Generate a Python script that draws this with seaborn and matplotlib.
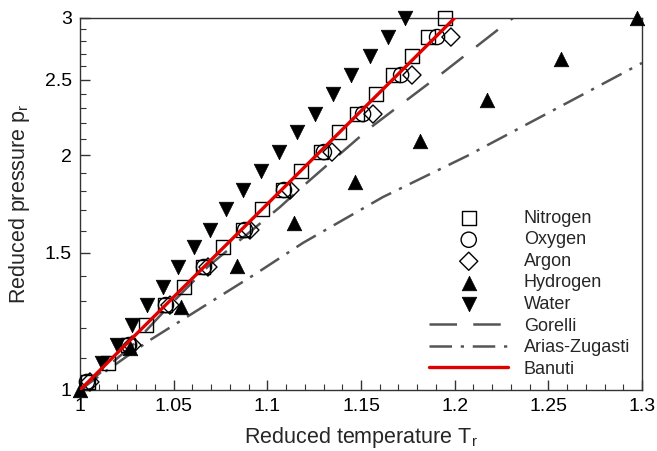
import matplotlib
matplotlib.use("Agg")
import matplotlib.pyplot as plt
import numpy as np
import pandas as pd
import seaborn as sns
from matplotlib.ticker import FixedLocator, FuncFormatter

# reduced pressure levels shared by nitrogen and water
p_levels = [1.024, 1.083, 1.142, 1.212, 1.285, 1.356, 1.438, 1.525, 1.604, 1.706,
            1.805, 1.909, 2.019, 2.142, 2.259, 2.397, 2.535, 2.681, 2.836, 3.0]
# every other level, where oxygen and argon were evaluated
p_levels_half = [1.024, 1.142, 1.285, 1.438, 1.604, 1.805, 2.019, 2.259, 2.535, 2.836]

nitrogen_T = [1.0043, 1.0149, 1.0256, 1.0352, 1.0454, 1.0555, 1.0657, 1.0763, 1.0870, 1.0972,
              1.1084, 1.1180, 1.1286, 1.1383, 1.1479, 1.1580, 1.1671, 1.1772, 1.1858, 1.1948]
oxygen_T = [1.0037, 1.0262, 1.0459, 1.0662, 1.0881, 1.1089, 1.1302, 1.1511, 1.1714, 1.1906]
argon_T = [1.0053, 1.0278, 1.0480, 1.0683, 1.0907, 1.1121, 1.1345, 1.1564, 1.1772, 1.1980]
water_T = [1.0117, 1.0198, 1.0278, 1.0358, 1.0443, 1.0523, 1.0609, 1.0694, 1.0779,
           1.0870, 1.0966, 1.1062, 1.1159, 1.1255, 1.1351, 1.1447, 1.1548, 1.1644, 1.1735]
water_p = p_levels[1:]

hydrogen_T = [1.0, 1.0267, 1.0539, 1.0838, 1.1143, 1.1469, 1.1816, 1.2173, 1.2568, 1.2974]
hydrogen_p = [1.0, 1.132, 1.278, 1.442, 1.638, 1.848, 2.086, 2.354, 2.657, 3.0]

gorelli_T = [1.0, 1.0278, 1.0480, 1.0683, 1.0907, 1.1068, 1.1185, 1.1350, 1.1548, 1.1745, 1.1921, 1.2311]
gorelli_p = [1.0, 1.140, 1.285, 1.440, 1.595, 1.717, 1.821, 1.972, 2.168, 2.355, 2.535, 3.0]

arias_T = [1.0, 1.0123, 1.0374, 1.0587, 1.0945, 1.1190, 1.1617, 1.2066, 1.2509, 1.3]
arias_p = [1.0, 1.051, 1.159, 1.248, 1.413, 1.544, 1.768, 1.996, 2.273, 2.627]

banuti_T = [1.0, 1.2]
banuti_p = [1.0, 3.0]

legend_order = ["Nitrogen", "Oxygen", "Argon", "Hydrogen", "Water",
                "Gorelli", "Arias-Zugasti", "Banuti"]


def main() -> None:
    sns.set_style("white")
    plt.rcParams["font.family"] = ["Liberation Sans", "DejaVu Sans"]
    plt.rcParams["mathtext.default"] = "regular"

    fig = plt.figure(figsize=(6.57, 4.51), dpi=100)
    ax = fig.add_axes([80 / 657, 1 - 390 / 451, 562 / 657, 372 / 451])

    gorelli = pd.DataFrame({"T": gorelli_T, "p": gorelli_p})
    arias = pd.DataFrame({"T": arias_T, "p": arias_p})
    banuti = pd.DataFrame({"T": banuti_T, "p": banuti_p})

    sns.lineplot(data=gorelli, x="T", y="p", ax=ax, color="#555555", lw=1.8,
                 linestyle=(0, (11, 6.5)), label="Gorelli", sort=False, zorder=2)
    sns.lineplot(data=arias, x="T", y="p", ax=ax, color="#555555", lw=1.8,
                 linestyle=(0, (9, 3.5, 1.3, 3.5)), label="Arias-Zugasti", sort=False, zorder=2)

    open_kw = dict(facecolor="none", edgecolor="black", linewidth=1.0, clip_on=False, zorder=3)
    sns.scatterplot(x=nitrogen_T, y=p_levels, marker="s", s=105, label="Nitrogen", ax=ax, **open_kw)
    sns.scatterplot(x=oxygen_T, y=p_levels_half, marker="o", s=120, label="Oxygen", ax=ax, **open_kw)
    sns.scatterplot(x=argon_T, y=p_levels_half, marker="D", s=85, label="Argon", ax=ax, **open_kw)

    solid_kw = dict(color="black", edgecolor="black", linewidth=0.5, clip_on=False, zorder=3)
    sns.scatterplot(x=hydrogen_T, y=hydrogen_p, marker="^", s=110, label="Hydrogen", ax=ax, **solid_kw)
    sns.scatterplot(x=water_T, y=water_p, marker="v", s=110, label="Water", ax=ax, **solid_kw)

    sns.lineplot(data=banuti, x="T", y="p", ax=ax, color="#e00000", lw=2.4,
                 label="Banuti", sort=False, zorder=4)

    ax.set_yscale("log")
    ax.set_xlim(1.0, 1.3)
    ax.set_ylim(1.0, 3.0)

    ax.xaxis.set_major_locator(FixedLocator(np.arange(1.0, 1.3001, 0.05)))
    ax.xaxis.set_minor_locator(FixedLocator(np.arange(1.0, 1.3001, 0.01)))
    ax.xaxis.set_major_formatter(FuncFormatter(lambda v, _: f"{v:g}"))
    ax.yaxis.set_major_locator(FixedLocator([1.0, 1.5, 2.0, 2.5, 3.0]))
    ax.yaxis.set_minor_locator(FixedLocator(np.arange(1.0, 3.0001, 0.1)))
    ax.yaxis.set_major_formatter(FuncFormatter(lambda v, _: f"{v:g}"))
    ax.yaxis.set_minor_formatter(FuncFormatter(lambda v, _: ""))

    ax.tick_params(which="both", direction="in", bottom=True, left=True, top=False, right=False,
                   colors="#333333", labelcolor="black", labelsize=14)
    ax.tick_params(which="major", length=7, width=1.0, pad=6)
    ax.tick_params(which="minor", length=4, width=0.8)
    for spine in ax.spines.values():
        spine.set_color("#333333")
        spine.set_linewidth(1.0)

    ax.set_xlabel("Reduced temperature T$_r$", fontsize=15.5, labelpad=7)
    ax.set_ylabel("Reduced pressure p$_r$", fontsize=15.5, labelpad=9)

    handles, labels = ax.get_legend_handles_labels()
    lookup = dict(zip(labels, handles))
    ax.legend([lookup[k] for k in legend_order], legend_order, loc="upper left",
              bbox_to_anchor=(0.621, 0.484), frameon=False, fontsize=13,
              handlelength=4.4, handletextpad=0.85, labelspacing=0.25,
              borderpad=0, borderaxespad=0, scatterpoints=1)

    fig.savefig("out.png", dpi=100)
    plt.close(fig)


if __name__ == "__main__":
    main()
